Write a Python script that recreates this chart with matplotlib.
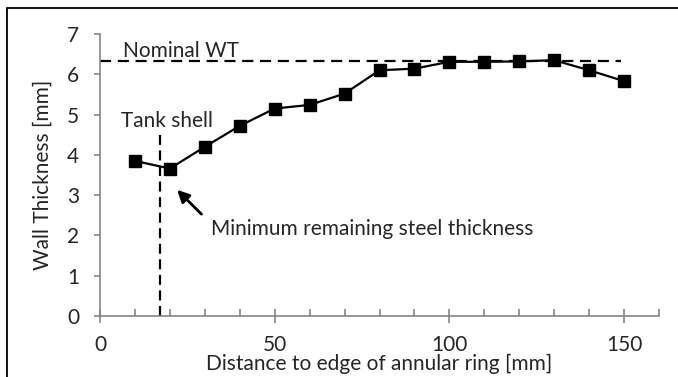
import matplotlib
matplotlib.use("Agg")
import matplotlib.pyplot as plt
from matplotlib.ticker import MultipleLocator
from matplotlib.patches import Rectangle

# Data
distance_mm = [10, 20, 30, 40, 50, 60, 70, 80, 90, 100, 110, 120, 130, 140, 150]
wall_thickness_mm = [3.85, 3.66, 4.20, 4.72, 5.15, 5.24, 5.52, 6.10, 6.14, 6.31, 6.31, 6.32, 6.35, 6.10, 5.83]
nominal_wt = 6.33
nominal_range = [0, 149]
tank_shell_x = 17.2
tank_shell_top = 4.5
x_ticks = [0, 50, 100, 150]
y_ticks = [0, 1, 2, 3, 4, 5, 6, 7]

plt.rcParams['font.family'] = ['Lato', 'DejaVu Sans']
txt = '#262626'
axc = '#868686'
fs = 15

fig = plt.figure(figsize=(6.78, 3.77), dpi=100)
ax = fig.add_axes([0.1475, 0.1618, 0.972 - 0.1475, 0.9098 - 0.1618])

ax.plot(distance_mm, wall_thickness_mm, color='black', lw=1.6, marker='s', ms=8, zorder=3)
ax.plot(nominal_range, [nominal_wt, nominal_wt], color='black', lw=1.6, dashes=(5, 3), zorder=2)
ax.plot([tank_shell_x, tank_shell_x], [0, tank_shell_top], color='black', lw=1.6, dashes=(4.5, 2.5), zorder=2)

ax.set_xlim(0, 160)
ax.set_ylim(0, 7)
ax.set_xticks(x_ticks)
ax.set_yticks(y_ticks)
ax.xaxis.set_minor_locator(MultipleLocator(10))

for s in ['top', 'right']:
    ax.spines[s].set_visible(False)
for s in ['left', 'bottom']:
    ax.spines[s].set_color(axc)
    ax.spines[s].set_linewidth(1.2)

ax.tick_params(axis='x', which='major', direction='inout', length=10, width=1.2, color=axc,
               labelsize=fs, labelcolor=txt, pad=9)
ax.tick_params(axis='x', which='minor', direction='in', length=5, width=1.2, color=axc)
ax.tick_params(axis='y', which='major', direction='out', length=4, width=1.2, color=axc,
               labelsize=fs, labelcolor=txt, pad=11)

ax.set_xlabel('Distance to edge of annular ring [mm]', fontsize=fs, color=txt, labelpad=-1)
ax.set_ylabel('Wall Thickness [mm]', fontsize=fs, color=txt, labelpad=10)

ax.text(6.6, 6.58, 'Nominal WT', fontsize=fs, color=txt, va='center', ha='left')
ax.text(6.0, 4.84, 'Tank shell', fontsize=fs, color=txt, va='center', ha='left')
ax.annotate('', xy=(21.5, 3.18), xytext=(29.6, 2.48),
            arrowprops=dict(arrowstyle='-|>', color='black', lw=2.0, mutation_scale=18))
ax.text(31.7, 2.16, 'Minimum remaining steel thickness', fontsize=fs, color=txt, va='center', ha='left')

# Figure frame (right and bottom edges fall outside the image)
fig.patches.append(Rectangle((7 / 678, -0.1), 1.2, (377 - 8) / 377 + 0.1, transform=fig.transFigure,
                             fill=False, edgecolor='black', lw=1.3))

fig.savefig('out.png', dpi=100)
